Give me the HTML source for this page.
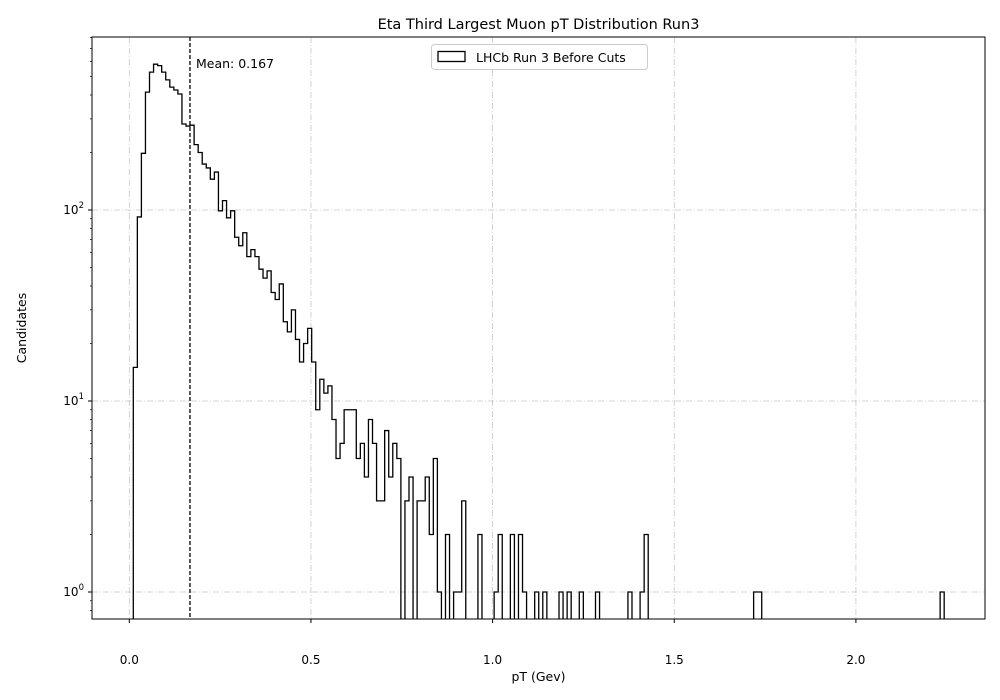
<!DOCTYPE html>
<html><head><meta charset="utf-8"><style>
body{margin:0;background:#fff;}
svg{display:block;font-family:"DejaVu Sans","Liberation Sans",sans-serif;}
</style></head><body>
<svg id="chart" width="1000" height="700" viewBox="0 0 1000 700" xmlns="http://www.w3.org/2000/svg">
<rect width="1000" height="700" fill="#fff"/>
<text x="538.5" y="29" font-size="14.5" text-anchor="middle">Eta Third Largest Muon pT Distribution Run3</text>
<g id="grid"></g>
<g id="ticks"></g>
<path id="hist" fill="none" stroke="#000" stroke-width="1.3" clip-path="url(#clip)"/>
<defs><clipPath id="clip"><rect x="92" y="37" width="893" height="582"/></clipPath></defs>
<line id="meanline" y1="37" y2="619" stroke="#000" stroke-width="1.3" stroke-dasharray="4,2"/>
<text id="meantext" y="68" font-size="12.5">Mean: 0.167</text>
<rect x="92" y="37" width="893" height="582" fill="none" stroke="#000" stroke-width="1"/>
<g>
<rect x="431.5" y="44.5" width="216" height="25" rx="3" fill="#fff" fill-opacity="0.85" stroke="#ccc"/>
<rect x="438" y="51.5" width="27" height="10" fill="none" stroke="#000" stroke-width="1.3"/>
<text x="476" y="62" font-size="12.5">LHCb Run 3 Before Cuts</text>
</g>
<text x="538.5" y="681" font-size="12.5" text-anchor="middle">pT (Gev)</text>
<text x="26" y="328" font-size="12.5" text-anchor="middle" transform="rotate(-90 26 328)">Candidates</text>
</svg>
<script>
const nBins = 200;
const binMin = 0.011;
const binMax = 2.243;
const meanValue = 0.167;
const xTickValues = [0, 0.5, 1.0, 1.5, 2.0];
const xTickLabels = ["0.0", "0.5", "1.0", "1.5", "2.0"];
const yDecades = [0, 1, 2];
const headCounts = [15,92,198,414,527,580,570,527,480,440,425,405,282,275,278,220,200,174,166,145,158,99,112,91,99,72,65,76,57,62,57,49,44,48,37,34,41,26,23,30,21,16,20,24,16,9,13,11,12,8,5,6,9,9,9,5,6,4,8,6,3,3,7,4,6,5,0,3,4,0,3,3,4,2,5,1,0,2,0,1,1,3];
const tailBins = [85,89,90,93,95,96,99,101,105,107,110,114,122,125,126,153,154,199];
const tailCounts = [2,1,2,2,2,1,1,1,1,1,1,1,1,1,2,1,1,1];

const X0 = 129.3, XS = 363.3;
const Y0 = 592, YS = 191, YBOT = 619, YTOP = 37, XL = 92, XR = 985;
function xPx(v){ return X0 + XS * v; }
function yPx(c){ return c > 0 ? Y0 - YS * Math.log10(c) : YBOT + 2; }

const counts = new Array(nBins).fill(0);
headCounts.forEach((c, i) => { counts[i] = c; });
tailBins.forEach((b, i) => { counts[b] = tailCounts[i]; });

const NS = "http://www.w3.org/2000/svg";
const grid = document.getElementById('grid');
const ticks = document.getElementById('ticks');
function mk(tag, attrs, parent){ const e = document.createElementNS(NS, tag); for (const k in attrs) e.setAttribute(k, attrs[k]); parent.appendChild(e); return e; }

xTickValues.forEach((v, i) => {
  const x = xPx(v);
  const gl = mk('line', {x1:x, x2:x, y1:YTOP, y2:YBOT, stroke:'#b0b0b0', 'stroke-width':0.8, 'stroke-dasharray':'6,2,1,2', opacity:0.7}, grid);
  
  
  mk('line', {x1:x, x2:x, y1:YBOT, y2:YBOT+4, stroke:'#000'}, ticks);
  const t = mk('text', {x:x, y:YBOT+45, 'font-size':12, 'text-anchor':'middle'}, ticks);
  t.textContent = xTickLabels[i];
  
  
});
yDecades.forEach(d => {
  const y = Y0 - YS * d;
  const gl = mk('line', {x1:XL, x2:XR, y1:y, y2:y, stroke:'#b0b0b0', 'stroke-width':0.8, 'stroke-dasharray':'6,2,1,2', opacity:0.7}, grid);
  
  
  mk('line', {x1:XL-4, x2:XL, y1:y, y2:y, stroke:'#000'}, ticks);
  const t = mk('text', {x:XL-8, y:y+4, 'font-size':12, 'text-anchor':'end'}, ticks);
  t.innerHTML = '10<tspan dy="-6" font-size="8.5">' + d + '</tspan>';
  
  
});
for (let d = -1; d <= 2; d++) {
  for (let m = 2; m <= 9; m++) {
    const y = Y0 - YS * (d + Math.log10(m));
    if (y < YTOP || y > YBOT) continue;
    mk('line', {x1:XL-2, x2:XL, y1:y, y2:y, stroke:'#000', 'stroke-width':0.7}, ticks);
  }
}

const bw = (binMax - binMin) / nBins;
let d = 'M' + xPx(binMin) + ',' + (YBOT + 2);
for (let i = 0; i < nBins; i++) {
  const xa = xPx(binMin + i * bw), xb = xPx(binMin + (i + 1) * bw), y = yPx(counts[i]);
  d += ' L' + xa + ',' + y + ' L' + xb + ',' + y;
}
d += ' L' + xPx(binMax) + ',' + (YBOT + 2);
document.getElementById('hist').setAttribute('d', d);

const mx = xPx(meanValue);
const ml = document.getElementById('meanline');
ml.setAttribute('x1', mx); ml.setAttribute('x2', mx);
document.getElementById('meantext').setAttribute('x', mx + 6);
</script>
</body></html>
